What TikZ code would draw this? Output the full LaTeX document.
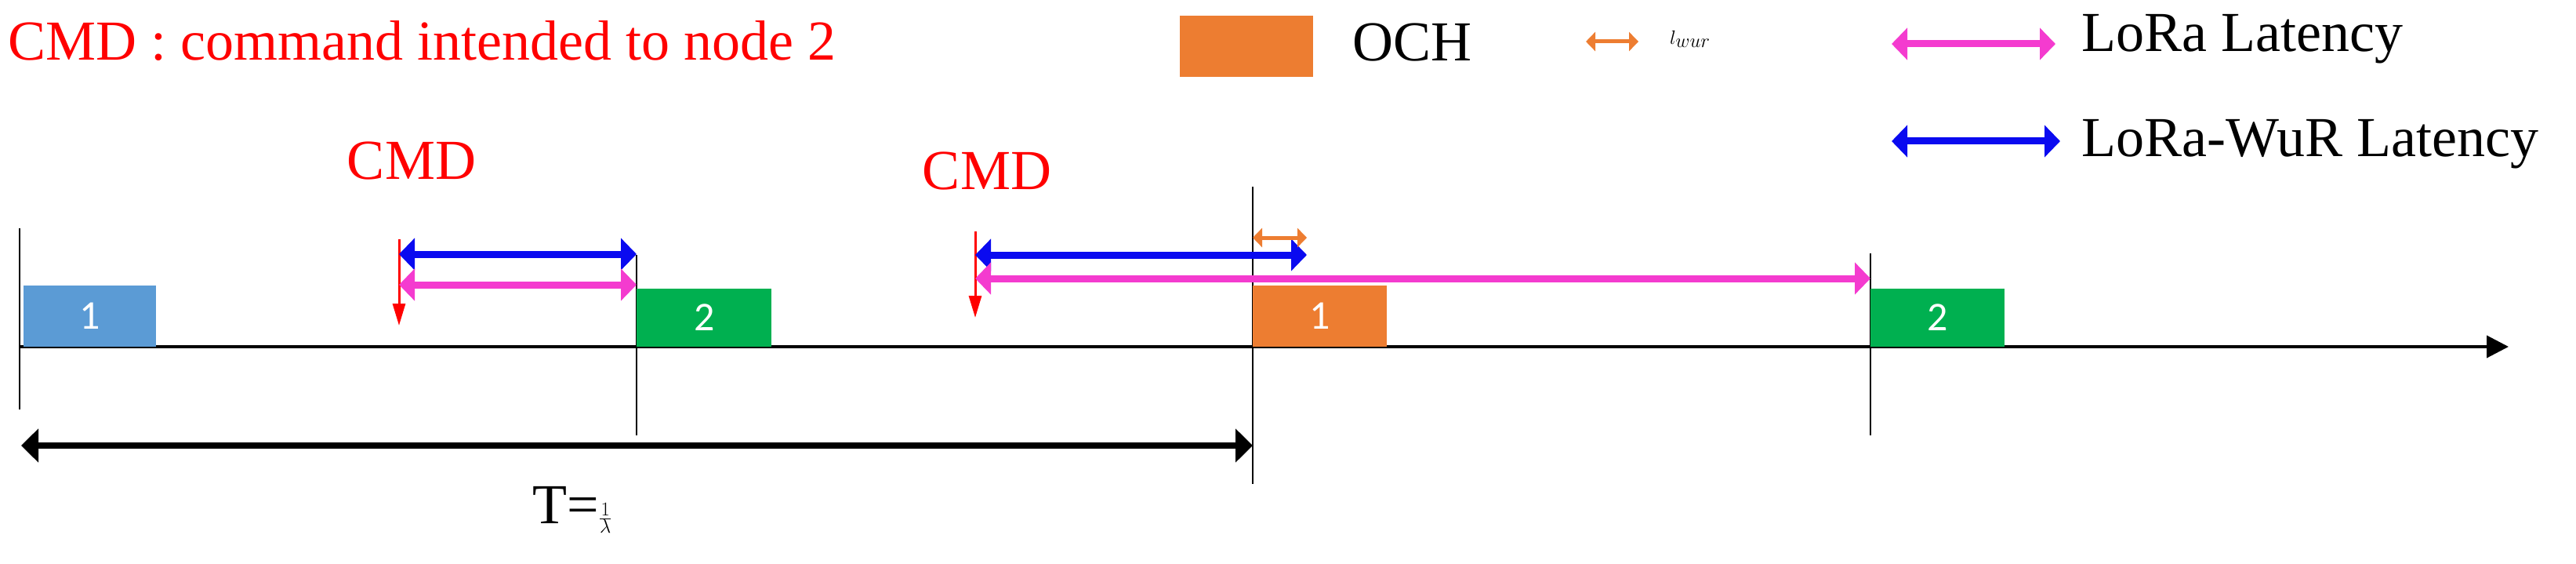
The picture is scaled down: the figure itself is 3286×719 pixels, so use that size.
\documentclass[tikz,border=0pt]{standalone}
\usepackage{fontspec}
\setmainfont{Liberation Serif}
\newfontfamily\boxfont{Carlito}
\usetikzlibrary{arrows.meta}
\definecolor{cblue}{HTML}{5B9BD5}
\definecolor{cgreen}{HTML}{00B050}
\definecolor{corange}{HTML}{ED7D31}
\definecolor{cpink}{HTML}{F43BCF}
\definecolor{cdblue}{HTML}{0A0AF0}
\tikzset{
 slot/.style={draw=none,inner sep=0pt,minimum height=74pt,anchor=south west,text=white,font=\boxfont\fontsize{52}{60}\selectfont},
 dbl/.style={line width=9pt,{Triangle[length=20pt,width=40pt]}-{Triangle[length=20pt,width=40pt]}},
 tick/.style={line width=2.5pt},
 lbl/.style={font=\fontsize{72}{84}\selectfont,inner sep=0pt},
 cmdarrow/.style={red,line width=3pt,-{Triangle[length=28pt,width=16pt]}}
}
\begin{document}
\begin{tikzpicture}[x=1pt,y=-1pt]
\useasboundingbox (0,0) rectangle (3286,719);
% axis
\coordinate (a0) at (25,442);
\coordinate (a1) at (3200,442);
\draw[line width=4pt,-{Triangle[length=28pt,width=28pt]}] (a0) -- (a1);
% ticks
\draw[tick] (25,291) -- (25,522);
\draw[tick] (812,325) -- (812,555);
\draw[tick] (1598,238) -- (1598,617);
\draw[tick] (2386,323) -- (2386,555);
% slots
\node[slot,fill=cblue,minimum width=169pt,minimum height=78pt] (s1) at (30,442) {1};
\node[slot,fill=cgreen,minimum width=172pt] (s2) at (812,442) {2};
\node[slot,fill=corange,minimum width=171pt,minimum height=78pt] (s3) at (1598,442) {1};
\node[slot,fill=cgreen,minimum width=171pt] (s4) at (2386,442) {2};
% CMD arrows
\node[lbl,text=red] (cmd1) at (525,205) {CMD};
\node[lbl,text=red] (cmd2) at (1259,218) {CMD};
\coordinate (c1t) at (509,305); \coordinate (c1b) at (509,415);
\coordinate (c2t) at (1244,295); \coordinate (c2b) at (1244,405);
\draw[cmdarrow] (c1t) -- (c1b);
\draw[cmdarrow] (c2t) -- (c2b);
% latency arrows
\coordinate (b1l) at (509,324); \coordinate (b1r) at (812,324);
\coordinate (p1l) at (509,363); \coordinate (p1r) at (812,363);
\coordinate (b2l) at (1244,325); \coordinate (b2r) at (1667,325);
\coordinate (p2l) at (1244,355); \coordinate (p2r) at (2386,355);
\coordinate (o1l) at (1598,303); \coordinate (o1r) at (1667,303);
\draw[dbl,cdblue] (b1l) -- (b1r);
\draw[dbl,cpink] (p1l) -- (p1r);
\draw[dbl,cdblue] (b2l) -- (b2r);
\draw[dbl,cpink] (p2l) -- (p2r);
\draw[corange,line width=5pt,{Triangle[length=12pt,width=24pt]}-{Triangle[length=12pt,width=24pt]}] (o1l) -- (o1r);
% period
\coordinate (t0) at (27,568); \coordinate (t1) at (1598,568);
\draw[line width=8pt,{Triangle[length=22pt,width=42pt]}-{Triangle[length=22pt,width=42pt]}] (t0) -- (t1);
\node[lbl] (tl) at (730,650) {T=$\frac{1}{\lambda}$};
% title
\node[lbl,text=red,anchor=west] (title) at (10,52) {CMD : command intended to node 2};
% legend
\node[draw=none,fill=corange,minimum width=170pt,minimum height=78pt,inner sep=0pt] (lo) at (1590,59) {};
\node[lbl,anchor=west] (loch) at (1725,54) {OCH};
\coordinate (lwl) at (2023,53); \coordinate (lwr) at (2090,53);
\draw[corange,line width=5pt,{Triangle[length=12pt,width=24pt]}-{Triangle[length=12pt,width=24pt]}] (lwl) -- (lwr);
\node[lbl,anchor=west] (lwt) at (2130,50) {$l_{wur}$};
\coordinate (lpl) at (2413,56); \coordinate (lpr) at (2622,56);
\draw[dbl,cpink] (lpl) -- (lpr);
\node[lbl,anchor=west] (lpt) at (2655,50) {LoRa Latency};
\coordinate (lbl1) at (2413,180); \coordinate (lbr) at (2628,180);
\draw[dbl,cdblue] (lbl1) -- (lbr);
\node[lbl,anchor=west] (lbt) at (2655,184) {LoRa-WuR Latency};
\end{tikzpicture}
\end{document}
